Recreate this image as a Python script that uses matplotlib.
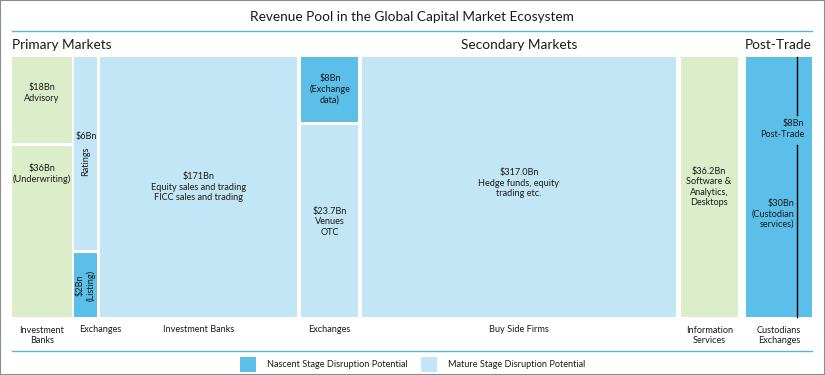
import matplotlib.pyplot as plt
from matplotlib.patches import Rectangle

plt.rcParams['font.family'] = ['Lato', 'DejaVu Sans']

# data
seg_col = [0, 0, 1, 1, 2, 3, 3, 4, 5, 6]
seg_value = [18, 36, 6, 2, 171, 8, 23.7, 317.0, 36.2, 38]
seg_stage = ['other', 'other', 'mature', 'nascent', 'mature',
             'nascent', 'mature', 'mature', 'other', 'nascent']
col_names = ['Investment\nBanks', 'Exchanges', 'Investment Banks', 'Exchanges',
             'Buy Side Firms', 'Information\nServices', 'Custodians\nExchanges']
sections = ['Primary Markets', 'Secondary Markets', 'Post-Trade']
legend_names = ['Nascent Stage Disruption Potential', 'Mature Stage Disruption Potential']

# layout (pixels)
col_x0 = [12, 74, 100, 301, 362, 681, 746]
col_w = [60, 23, 197, 57, 314, 57, 66]
name_dx = [0, 15, 0, 0, 0, 0, 0]   # the small Exchanges label sits off-centre
top, full_h, gap = 57, 260, 3

colors = {'nascent': '#5bbfe9', 'mature': '#c2e6f6', 'other': '#dcedc9'}
line_c = '#55b6e0'
txt_c = '#1a1a1a'

fig = plt.figure(figsize=(8.25, 3.75), dpi=100)
ax = fig.add_axes([0, 0, 1, 1])
ax.set_xlim(0, 825)
ax.set_ylim(375, 0)
ax.axis('off')

# stacked blocks, height share from values
for c in range(len(col_x0)):
    idx = [i for i in range(len(seg_col)) if seg_col[i] == c]
    tot = sum(seg_value[i] for i in idx)
    avail = full_h - gap * (len(idx) - 1)
    y = top
    for i in idx:
        h = seg_value[i] / tot * avail
        ax.bar(col_x0[c], h, bottom=y, width=col_w[c], align='edge',
               color=colors[seg_stage[i]], linewidth=0)
        y += h + gap

fs = 6.6
kw = dict(ha='center', va='center', fontsize=fs, color=txt_c, linespacing=1.2)
ax.text(42, 93, '$18Bn\nAdvisory', **kw)
ax.text(42, 174, '$36Bn\n(Underwriting)', **kw)
ax.text(86, 137, '$6Bn', **kw)
ax.text(86, 161, 'Ratings', rotation=90, **kw)
ax.text(86, 285, '$2Bn\n(Listing)', rotation=90, **kw)
ax.text(199, 187, '$171Bn\nEquity sales and trading\nFICC sales and trading', **kw)
ax.text(330, 89, '$8Bn\n(Exchange\ndata)', **kw)
ax.text(330, 222, '$23.7Bn\nVenues\nOTC', **kw)
ax.text(519, 183, '$317.0Bn\nHedge funds, equity\ntrading etc.', **kw)
ax.text(709, 187, '$36.2Bn\nSoftware &\nAnalytics,\nDesktops', **kw)
kr = dict(kw, ha='right')
ax.text(804, 129, '$8Bn\nPost-Trade', **kr)
ax.text(794, 214, '$30Bn\n(Custodian\nservices)', **kr)

# divider line in post-trade block
ax.plot([797, 797], [top, 115], color='black', lw=1)
ax.plot([797, 797], [145, top + full_h], color='black', lw=1)

# column names
for c, name in enumerate(col_names):
    ax.text(col_x0[c] + col_w[c] / 2 + name_dx[c], 335.5 if '\n' in name else 330,
            name, **kw)

# title and section headings
hfs = 9.8
ax.text(412, 17, 'Revenue Pool in the Global Capital Market Ecosystem',
        ha='center', va='center', fontsize=hfs, color=txt_c)
ax.text(12, 45, sections[0], ha='left', va='center', fontsize=hfs, color=txt_c)
ax.text(519, 45, sections[1], ha='center', va='center', fontsize=hfs, color=txt_c)
ax.text(812, 45, sections[2], ha='right', va='center', fontsize=hfs, color=txt_c)

ax.plot([12, 812], [30.5, 30.5], color=line_c, lw=1)
ax.plot([12, 812], [351, 351], color=line_c, lw=1)

# legend
for lx, st, name in [(240, 'nascent', legend_names[0]), (421, 'mature', legend_names[1])]:
    ax.add_patch(Rectangle((lx, 357), 16, 15, color=colors[st], lw=0))
    ax.text(lx + 27, 364.5, name, ha='left', va='center', fontsize=fs, color=txt_c)

# outer border
fig.patches.append(Rectangle((0, 0), 1, 1, transform=fig.transFigure, fill=False,
                             edgecolor='#8c8c8c', lw=1.5))

plt.savefig('out.png', dpi=100)
